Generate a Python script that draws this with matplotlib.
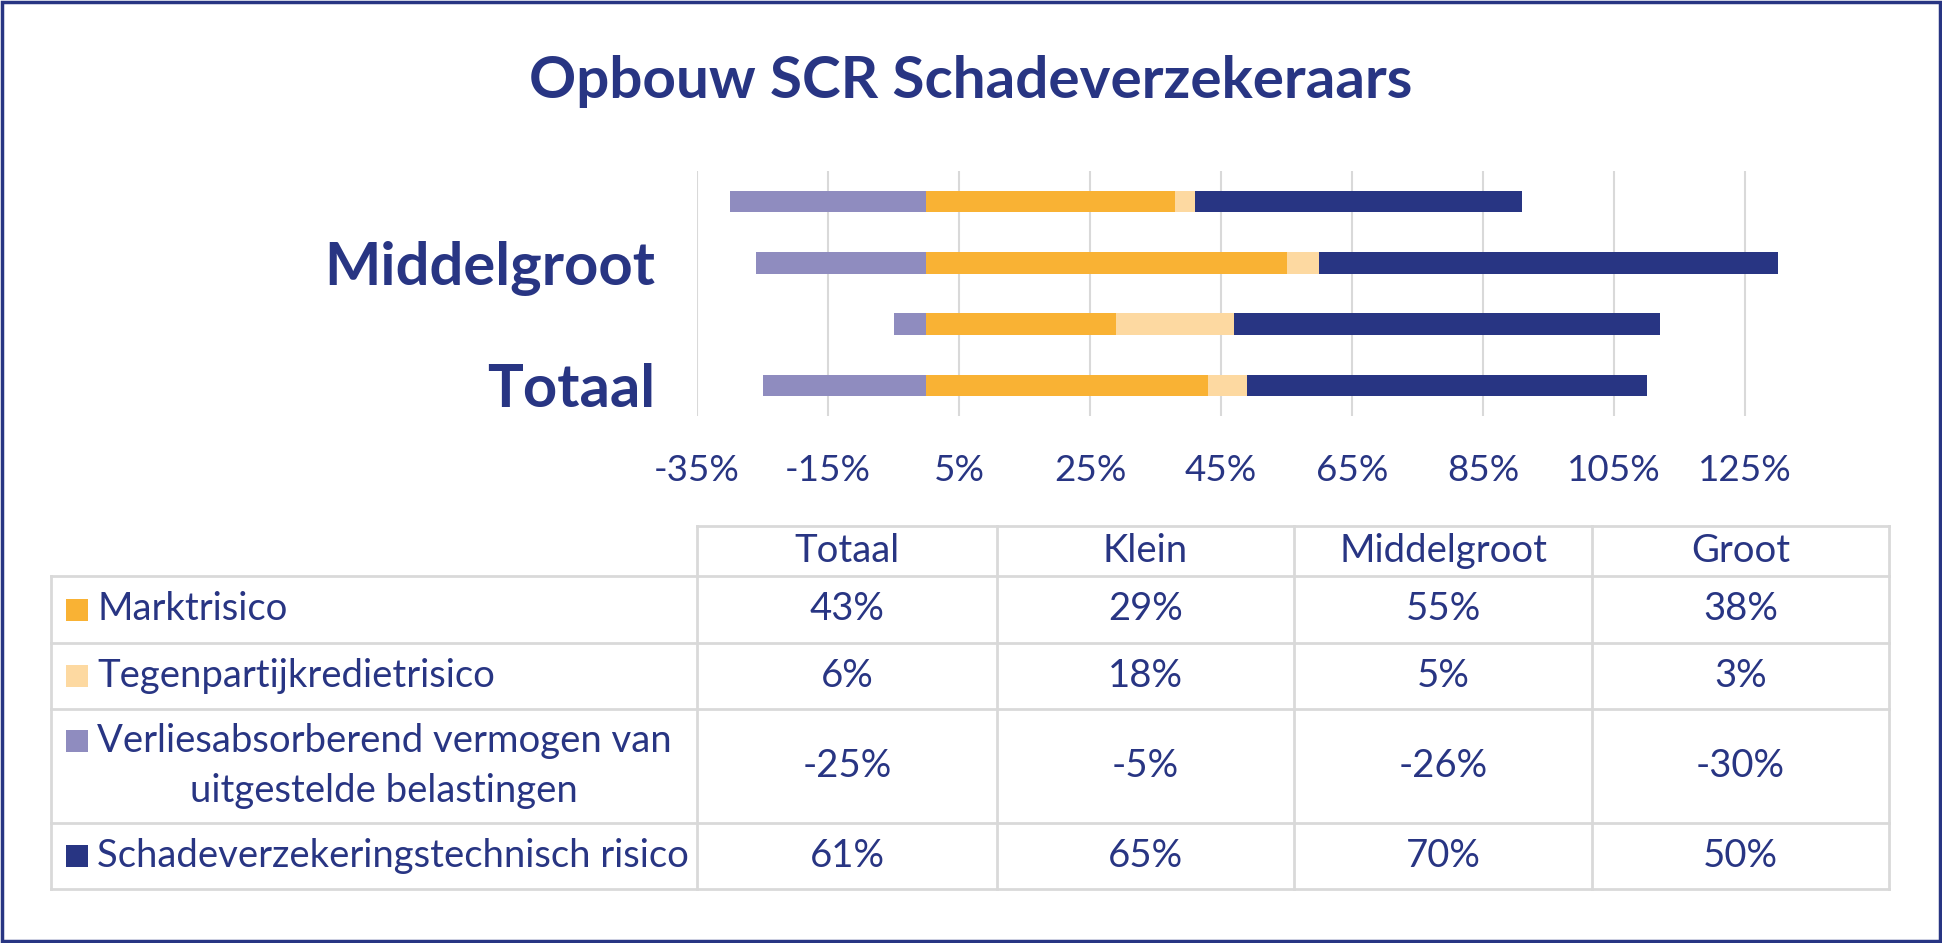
import matplotlib
matplotlib.use("Agg")
import matplotlib.pyplot as plt
from matplotlib.lines import Line2D
from matplotlib.patches import Rectangle
import numpy as np

# ---- data ----
categories = ["Totaal", "Klein", "Middelgroot", "Groot"]
series_names = ["Marktrisico", "Tegenpartijkredietrisico",
                "Verliesabsorberend vermogen van\nuitgestelde belastingen",
                "Schadeverzekeringstechnisch risico"]
marktrisico = [43, 29, 55, 38]
tegenpartij = [6, 18, 5, 3]
verlies = [-25, -5, -26, -30]
schade = [61, 65, 70, 50]
xticks = list(range(-35, 126, 20))

# ---- style ----
C_MARKT = "#F9B234"
C_TEGEN = "#FDD9A1"
C_VERL = "#8F8CBF"
C_SCHADE = "#283583"
TXT = "#283583"
GRID = "#D9D9D9"
FONT = ["Lato", "DejaVu Sans"]
TAB_FS = 27.5

W, H = 1942, 943
fig = plt.figure(figsize=(W / 100, H / 100), dpi=100)
fig.patch.set_facecolor("white")

def fx(x):
    return x / W

def fy(y):
    return 1 - y / H

# plot area
ax_l, ax_r, ax_t, ax_b = 697, 1889, 171, 416
ax = fig.add_axes([fx(ax_l), fy(ax_b), fx(ax_r - ax_l), (ax_b - ax_t) / H])
px_per_pct = (1745 - 697) / 160.0
ax.set_xlim(-35, -35 + (ax_r - ax_l) / px_per_pct)
ax.set_ylim(-0.5, len(categories) - 0.5)

y = np.arange(len(categories))
h = 0.35
m = np.array(marktrisico)
t = np.array(tegenpartij)
v = np.array(verlies)
s = np.array(schade)
ax.barh(y, m, left=0, height=h, color=C_MARKT, zorder=3)
ax.barh(y, t, left=m, height=h, color=C_TEGEN, zorder=3)
ax.barh(y, s, left=m + t, height=h, color=C_SCHADE, zorder=3)
ax.barh(y, v, left=0, height=h, color=C_VERL, zorder=3)

ax.set_xticks(xticks)
ax.set_xticklabels([f"{x}%" for x in xticks])
ax.set_yticks(y[0::2])
ax.set_yticklabels(categories[0::2])
for sp in ax.spines.values():
    sp.set_visible(False)
ax.tick_params(axis="x", length=0, pad=27, labelsize=26.5, labelcolor=TXT)
ax.tick_params(axis="y", length=0, pad=30, labelsize=43, labelcolor=TXT)
for lab in ax.get_xticklabels():
    lab.set_family(FONT)
for lab in ax.get_yticklabels():
    lab.set_family(FONT)
    lab.set_fontweight("bold")
ax.grid(axis="x", color=GRID, linewidth=1.5, zorder=0)
ax.set_axisbelow(True)
ax.set_facecolor("none")

# title
fig.text(fx(971), fy(81), "Opbouw SCR Schadeverzekeraars", ha="center", va="center",
         fontsize=42, fontweight="bold", color=TXT, family=FONT)

# ---- data table ----
col_x = [697, 997, 1294, 1592, 1889]
row_y = [526, 576, 643, 709, 823, 889]
tab_left = 51

def hline(y0, x0, x1):
    fig.add_artist(Line2D([fx(x0), fx(x1)], [fy(y0), fy(y0)], color=GRID, lw=2,
                          transform=fig.transFigure))

def vline(x0, y0, y1):
    fig.add_artist(Line2D([fx(x0), fx(x0)], [fy(y0), fy(y1)], color=GRID, lw=2,
                          transform=fig.transFigure))

hline(row_y[0], col_x[0], col_x[-1])
for yy in row_y[1:]:
    hline(yy, tab_left, col_x[-1])
for xx in col_x:
    vline(xx, row_y[0], row_y[-1])
vline(tab_left, row_y[1], row_y[-1])

# header
for i, cat in enumerate(categories):
    cx = (col_x[i] + col_x[i + 1]) / 2
    cy = (row_y[0] + row_y[1]) / 2
    fig.text(fx(cx), fy(cy), cat, ha="center", va="center", fontsize=TAB_FS,
             color=TXT, family=FONT)

series_vals = [marktrisico, tegenpartij, verlies, schade]
series_cols = [C_MARKT, C_TEGEN, C_VERL, C_SCHADE]
sq = 22
for r, (name, vals, col) in enumerate(zip(series_names, series_vals, series_cols)):
    y0, y1 = row_y[r + 1], row_y[r + 2]
    cy = (y0 + y1) / 2
    nlines = name.count("\n") + 1
    first_line_cy = cy if nlines == 1 else cy - 25
    fig.add_artist(Rectangle((fx(66), fy(first_line_cy + sq / 2)), sq / W, sq / H,
                             facecolor=col, edgecolor="none", transform=fig.transFigure))
    fig.text(fx(97), fy(cy), name, ha="left", va="center", multialignment="center",
             fontsize=TAB_FS, color=TXT, family=FONT, linespacing=1.45)
    for i, val in enumerate(vals):
        cx = (col_x[i] + col_x[i + 1]) / 2
        fig.text(fx(cx), fy(cy), f"{val}%", ha="center", va="center", fontsize=TAB_FS,
                 color=TXT, family=FONT)

# outer frame
fig.add_artist(Rectangle((0.0008, 0.0016), 1 - 0.0016, 1 - 0.0032, fill=False,
                         edgecolor="#283583", lw=2.5, transform=fig.transFigure))

fig.savefig("out.png", dpi=100, facecolor="white")
